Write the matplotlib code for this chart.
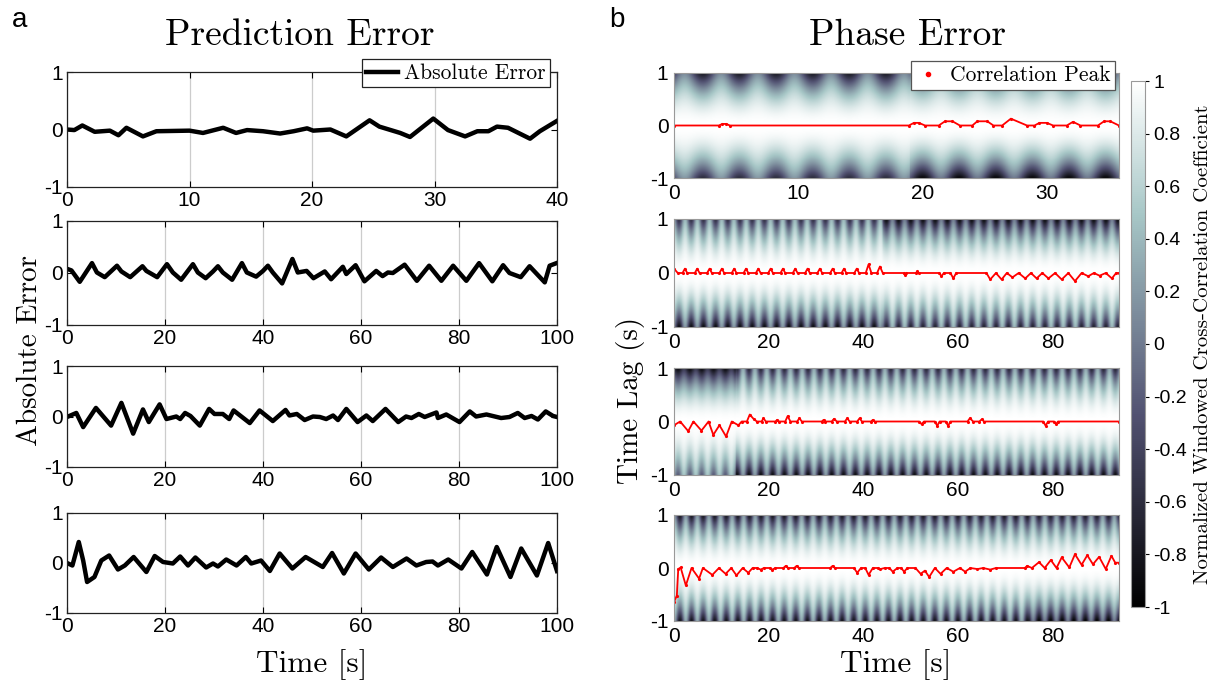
import numpy as np
import matplotlib
matplotlib.use('Agg')
import matplotlib.pyplot as plt
from matplotlib.lines import Line2D

plt.rcParams['font.family'] = ['Liberation Sans', 'DejaVu Sans']
plt.rcParams['axes.unicode_minus'] = False
SERIF = 'cmr10'

# ---------------- (a) absolute prediction error ----------------
err1_t = [0, 0.6, 1.25, 2.26, 3.5, 4.2, 4.85, 6.2, 7.3, 10, 11.1, 12.75, 13.8, 14.7, 16, 17.4,
          18.5, 19.6, 20.1, 21.5, 22.8, 24.7, 25.5, 27.2, 28, 29.9, 31.1, 32.5, 33.5, 34.4,
          35.1, 36, 37.8, 38.6, 40]
err1_v = [0, -0.01, 0.07, -0.04, -0.02, -0.1, 0.03, -0.12, -0.03, -0.02, -0.06, 0.03, -0.06,
          -0.01, -0.03, -0.07, -0.03, 0.02, -0.02, 0, -0.12, 0.16, 0.05, -0.06, -0.13, 0.19,
          -0.01, -0.12, -0.03, -0.03, 0.05, 0.03, -0.16, -0.03, 0.15]

err2_t = [0, 0.9, 2.6, 5.1, 6.1, 7.7, 10.2, 11.1, 12.9, 15.4, 16.2, 18.4, 20.4, 21.6, 23.3,
          25.7, 26.7, 28.3, 29.8, 30.8, 31.8, 33.7, 35.7, 36.7, 38.6, 40, 41, 42, 43.9, 46,
          47.1, 48.9, 50.3, 52.6, 53.9, 56.3, 57, 58.9, 60.7, 63.1, 64.4, 65.5, 66.5, 68.9,
          71.4, 73.9, 76.4, 78.8, 81.5, 84.1, 86.8, 89, 90.3, 92.6, 94.4, 97.5, 98.5, 99.9]
err2_v = [0.08, 0.05, -0.17, 0.19, 0.01, -0.08, 0.14, 0.03, -0.08, 0.13, 0.04, -0.08, 0.17,
          0.01, -0.13, 0.17, 0.01, -0.1, 0.03, 0.13, 0.01, -0.13, 0.19, 0.01, -0.07, 0.04,
          0.14, 0.01, -0.2, 0.27, 0.01, 0.04, -0.1, 0.03, -0.12, 0.12, -0.02, 0.15, -0.16,
          0.04, -0.06, 0.01, 0, 0.16, -0.15, 0.14, -0.15, 0.14, -0.15, 0.19, -0.16, 0.15, 0,
          -0.08, 0.13, -0.18, 0.14, 0.19]

err3_t = [0, 1.9, 3.3, 5.9, 9.0, 11.1, 13.5, 15.5, 16.7, 17.7, 18.9, 20.3, 22.3, 23.1, 24.1,
          25.2, 27.1, 29, 30.1, 31.8, 33.1, 34, 37.3, 39.3, 42, 44.6, 45.4, 46.9, 48.5, 50.2,
          51.6, 52.9, 54.3, 55.3, 57, 59.3, 61.1, 62.4, 65, 67.6, 69.2, 70.3, 71.8, 73, 75.4,
          75.7, 77.4, 80.1, 82.2, 83.5, 85.6, 88.6, 90.3, 92, 93.4, 94.8, 96.1, 97.7, 99.2, 100]
err3_v = [-0.01, 0.07, -0.21, 0.17, -0.18, 0.27, -0.34, 0.14, -0.11, 0.05, 0.24, -0.05, 0,
          -0.05, 0.07, 0.01, -0.18, 0.15, 0.05, 0.05, -0.05, 0.12, -0.13, 0.12, -0.09, 0.13,
          0.02, 0.05, -0.07, 0, -0.01, -0.05, 0.02, -0.07, 0.15, -0.11, 0.02, -0.09, 0.15,
          -0.11, 0, -0.03, 0.05, -0.01, 0.08, -0.03, 0.04, -0.11, 0.1, 0, 0.04, -0.03, -0.01,
          0.07, -0.03, 0.01, -0.06, 0.1, 0.01, -0.01]

err4_t = [0, 1.1, 2.4, 3.3, 4.1, 5.6, 7.0, 8.6, 10.4, 11.8, 13.6, 16.2, 17.9, 19.6, 21.6,
          23.1, 24.7, 26.2, 28.4, 29.8, 30.8, 32.5, 34.6, 36.5, 37.6, 39.6, 41.4, 43.4, 46,
          48.7, 52.2, 54.1, 56.5, 58.9, 61.6, 64.1, 66.5, 69.3, 71.3, 73.3, 74.6, 75.7, 77.8,
          80.5, 82.7, 85.7, 87.7, 90.5, 92.7, 95.9, 98.2, 100]
err4_v = [0, -0.05, 0.42, 0.05, -0.38, -0.28, 0.05, 0.15, -0.13, -0.05, 0.12, -0.18, 0.14,
          0.02, -0.01, 0.13, -0.05, 0.11, -0.09, -0.01, -0.07, 0.07, -0.05, 0.12, -0.01, 0.05,
          -0.16, 0.19, -0.11, 0.12, -0.08, 0.2, -0.21, 0.19, -0.13, 0.11, -0.08, 0.09, -0.05,
          0.02, 0.03, -0.05, 0.07, -0.11, 0.22, -0.23, 0.32, -0.28, 0.29, -0.25, 0.4, -0.16]

err_series = [(err1_t, err1_v), (err2_t, err2_v), (err3_t, err3_v), (err4_t, err4_v)]
err_xmax = [40, 100, 100, 100]
err_xticks = [[0, 10, 20, 30, 40]] + [[0, 20, 40, 60, 80, 100]] * 3

# ---------------- (b) correlation peak lag ----------------
peak1_t = [0, 3.6, 3.9, 4.2, 4.5, 18.9, 19.3, 19.7, 20.2, 21.3, 21.8, 22.4, 23, 24, 24.4,
           25.2, 25.7, 26.4, 27.1, 28.4, 29, 29.4, 30, 30.5, 31.6, 32.1, 32.7, 34.1, 34.6,
           35.1, 35.8]
peak1_v = [0, 0, 0.03, 0.03, 0, 0, 0.05, 0.05, 0, 0, 0.08, 0.08, 0, 0, 0.08, 0.08, 0, 0,
           0.13, 0, 0, 0.05, 0.05, 0, 0, 0.07, 0, 0, 0.08, 0.08, 0]

peak2_t = [0, 0.8, 1.8, 2.3, 2.8, 4.4, 4.9, 5.4, 7.0, 7.5, 8.0, 9.6, 10.1, 10.6, 12.2, 12.7,
           13.2, 14.7, 15.2, 15.7, 17.3, 17.8, 18.3, 19.9, 20.4, 20.9, 22.5, 23.0, 23.5, 25.1,
           25.6, 26.1, 27.7, 28.2, 28.7, 30.3, 30.8, 31.3, 33.0, 33.5, 34.0, 35.4, 35.9, 36.4,
           38.1, 38.6, 39.1, 40.5, 41.1, 41.7, 42.9, 43.5, 44.1, 48.5, 48.8, 49.1, 51.1, 51.4,
           51.7, 56.0, 56.5, 57.0, 58.4, 59.0, 59.6, 66.0, 66.8, 68.0, 69.2, 70.3, 71.5, 72.8,
           74.2, 75.4, 76.6, 77.8, 79.1, 80.5, 81.9, 83.3, 84.7, 86.1, 87.5, 88.7, 89.9, 91.2,
           92.5, 93.4, 94]
peak2_v = [0.08, 0, 0, 0.08, 0, 0, 0.08, 0, 0, 0.08, 0, 0, 0.08, 0, 0, 0.08, 0, 0, 0.08, 0,
           0, 0.08, 0, 0, 0.08, 0, 0, 0.08, 0, 0, 0.08, 0, 0, 0.08, 0, 0, 0.08, 0, 0, 0.08, 0,
           0, 0.08, 0, 0, 0.08, 0, 0, 0.16, 0, 0, 0.12, 0, 0, -0.04, 0, 0, 0.03, 0, 0, -0.06,
           0, 0, -0.1, 0, 0, -0.12, 0, -0.12, 0, -0.08, 0, -0.1, 0, -0.1, 0, -0.1, 0, -0.12, 0,
           -0.15, 0, -0.06, 0, -0.05, 0, -0.1, 0, 0]

peak3_t = [0, 1.3, 3.0, 4.1, 5.8, 7.3, 8.3, 9.6, 11.0, 12.2, 13.6, 14.3, 15.4, 16.0, 16.8,
           17.5, 18.5, 18.9, 19.4, 21.4, 21.8, 22.2, 23.5, 24.0, 24.6, 26.0, 26.5, 27.0, 31.2,
           31.6, 32.0, 33.3, 33.8, 34.4, 36.1, 36.6, 37.1, 38.7, 39.2, 39.7, 41.6, 42.0, 42.4,
           51.8, 52.3, 52.8, 55.1, 55.6, 56.1, 57.4, 57.9, 58.4, 62.0, 62.5, 63.2, 64.5, 65.0,
           65.5, 78.0, 78.5, 79.0, 80.3, 80.7, 81.1, 94]
peak3_v = [-0.07, 0, -0.18, 0, -0.17, 0, -0.25, -0.07, -0.28, 0, -0.07, 0, 0, 0.13, 0.05, 0,
           0, 0.06, 0, 0, 0.03, 0, 0, 0.1, 0, 0, 0.06, 0, 0, 0.03, 0, 0, 0.05, 0, 0, 0.06, 0,
           0, 0.06, 0, 0, 0.03, 0, 0, -0.05, 0, 0, -0.08, 0, 0, -0.08, 0, 0, 0.06, 0, 0, 0.04,
           0, 0, -0.08, 0, 0, -0.05, 0, 0]

peak4_t = [0, 0.6, 0.9, 1.4, 2.5, 3.7, 5.3, 6.1, 8.1, 9.5, 10.9, 12.1, 13.2, 14.5, 15.7, 16.6,
           17.6, 18.3, 19.0, 20.2, 20.8, 21.4, 23.1, 23.6, 24.1, 25.4, 25.9, 26.4, 33.0, 33.5,
           34.0, 38.0, 38.7, 39.5, 40.4, 41.1, 42.0, 43.0, 43.6, 44.5, 45.5, 46.2, 47.2, 48.0,
           48.6, 49.3, 51.0, 52.1, 53.0, 53.9, 55.1, 56.3, 57.6, 59.0, 60.4, 61.5, 62.6, 64.1,
           65.3, 66.8, 68.0, 74.1, 74.6, 75.6, 77.1, 78.3, 79.6, 80.8, 81.9, 83.5, 84.7, 86.1,
           87.3, 88.5, 89.8, 91.2, 92.4, 93.2, 94]
peak4_v = [-0.64, -0.52, -0.02, 0.01, -0.33, 0, -0.2, 0, -0.13, 0, -0.11, 0, -0.14, 0, -0.09,
           0, 0, -0.03, 0, 0, -0.03, 0, 0, 0.04, 0, 0, 0.04, 0, 0, 0.04, 0, 0, -0.09, 0, 0,
           -0.13, 0, 0, -0.02, 0, 0, -0.07, 0, 0, -0.07, 0, 0, -0.11, -0.05, -0.17, 0, -0.11, 0,
           -0.07, 0, -0.07, 0, -0.02, 0, -0.03, 0, 0, 0.04, 0, 0.11, 0, 0.15, 0, 0.2, 0.01,
           0.26, 0.06, 0.24, 0.07, 0.21, -0.02, 0.23, 0.1, 0.1]

peak_series = [(peak1_t, peak1_v), (peak2_t, peak2_v), (peak3_t, peak3_v), (peak4_t, peak4_v)]
lag_xmax = [35.8, 94, 94, 94]
lag_xticks = [[0, 10, 20, 30]] + [[0, 20, 40, 60, 80]] * 3

# background texture of each cross-correlation map: stripe period (s) and, per time
# segment, the range of the coefficient at lag +1 (top) and lag -1 (bottom)
stripe_period = [2.95, 2.58, 2.5, 2.45]
stripe_phase = [2.3, 1.0, 0.8, 1.2]
edge_segments = [
    [(0, 19, -0.8, 0.1, -0.6, 0.2), (19, 36, -0.5, 0.2, -0.95, 0.0)],
    [(0, 44, -0.6, 0.4, -0.9, 0.2), (44, 94, -0.95, 0.0, -0.7, 0.4)],
    [(0, 13, -0.95, -0.5, -0.2, 0.5), (13, 94, -0.7, 0.3, -0.9, 0.2)],
    [(0, 75, -0.85, 0.2, -0.85, 0.3), (75, 94, -0.8, 0.2, -1.0, 0.0)],
]
cbar_ticks = [-1, -0.8, -0.6, -0.4, -0.2, 0, 0.2, 0.4, 0.6, 0.8, 1]
cbar_labels = ['-1', '-0.8', '-0.6', '-0.4', '-0.2', '0', '0.2', '0.4', '0.6', '0.8', '1']


def xcorr_map(tmax, period, phase, segments, nt=700, nl=121):
    t = np.linspace(0, tmax, nt)
    lag = np.linspace(-1, 1, nl)
    osc = 0.5 + 0.5 * np.cos(2 * np.pi * (t - phase) / period)
    top = np.zeros(nt)
    bot = np.zeros(nt)
    for t0, t1, tlo, thi, blo, bhi in segments:
        m = (t >= t0) & (t <= t1)
        top[m] = tlo + (thi - tlo) * (1 - osc[m])
        bot[m] = blo + (bhi - blo) * (1 - osc[m])
    edge = np.where(lag[:, None] >= 0, top[None, :], bot[None, :])
    return np.clip(1 - (1 - edge) * lag[:, None] ** 2, -1, 1)


W, H = 1213, 687
fig = plt.figure(figsize=(W / 100, H / 100), dpi=100)


def px_axes(x0, y0, x1, y1):
    return fig.add_axes([x0 / W, 1 - y1 / H, (x1 - x0) / W, (y1 - y0) / H])


tick_fs = 15
left_rows = [(72, 187), (221, 325), (366, 467), (513, 613)]
right_rows = [(73, 178), (219, 327), (368, 475), (515, 621)]

for i, ((t, v), (y0, y1)) in enumerate(zip(err_series, left_rows)):
    ax = px_axes(67, y0, 557, y1)
    ln, = ax.plot(t, v, color='black', lw=3.2, solid_joinstyle='round')
    ax.set_xlim(0, err_xmax[i])
    ax.set_ylim(-1, 1)
    ax.set_xticks(err_xticks[i])
    ax.set_yticks([-1, 0, 1])
    ax.set_yticklabels(['-1', '0', '1'])
    ax.grid(axis='x', color='#cccccc', lw=0.9)
    ax.tick_params(direction='in', length=4, labelsize=tick_fs, top=True, right=True, pad=3)
    for s in ax.spines.values():
        s.set_linewidth(0.9)
        s.set_color('#222222')
    if i == 0:
        leg = ax.legend([ln], ['Absolute Error'], loc='upper right', bbox_to_anchor=(0.985, 1.11),
                        borderaxespad=0, fancybox=False, framealpha=1, handlelength=1.5,
                        handletextpad=0.25, borderpad=0.2, prop={'family': SERIF, 'size': 15.5})
        leg.get_frame().set_edgecolor('#222222')
        leg.get_frame().set_linewidth(0.9)

for i, ((t, v), (y0, y1)) in enumerate(zip(peak_series, right_rows)):
    ax = px_axes(674, y0, 1119, y1)
    img = xcorr_map(lag_xmax[i], stripe_period[i], stripe_phase[i], edge_segments[i])
    im = ax.imshow(img, cmap='bone', vmin=-1, vmax=1, aspect='auto', origin='lower',
                   extent=[0, lag_xmax[i], -1, 1], interpolation='bilinear')
    ax.plot(t, v, color='red', lw=1.3, marker='.', ms=2.5)
    ax.set_xlim(0, lag_xmax[i])
    ax.set_ylim(-1, 1)
    ax.set_xticks(lag_xticks[i])
    ax.set_yticks([-1, 0, 1])
    ax.set_yticklabels(['-1', '0', '1'])
    ax.tick_params(length=0, labelsize=tick_fs, pad=4)
    for s in ax.spines.values():
        s.set_color('#999999')
        s.set_linewidth(0.8)
    if i == 0:
        h = Line2D([], [], color='red', marker='.', ls='none', ms=6)
        leg = ax.legend([h], ['Correlation Peak'], loc='upper right', bbox_to_anchor=(0.99, 1.11),
                        borderaxespad=0, fancybox=False, framealpha=1, handlelength=1.2,
                        handletextpad=0.4, borderpad=0.2, prop={'family': SERIF, 'size': 15.5})
        leg.get_frame().set_edgecolor('#555555')
        leg.get_frame().set_linewidth(0.9)

cax = px_axes(1131, 81, 1145, 607)
cb = fig.colorbar(im, cax=cax, ticks=cbar_ticks)
cb.ax.set_yticklabels(cbar_labels)
cb.ax.tick_params(labelsize=tick_fs - 1, length=3, pad=3)
cb.outline.set_edgecolor('#999999')
cb.outline.set_linewidth(0.8)
cb.set_label('Normalized Windowed Cross-Correlation Coefficient', family=SERIF, fontsize=15,
             labelpad=5)

fig.text(300 / W, 1 - 35 / H, 'Prediction Error', family=SERIF, fontsize=27, ha='center', va='center')
fig.text(908 / W, 1 - 35 / H, 'Phase Error', family=SERIF, fontsize=27, ha='center', va='center')
fig.text(312 / W, 1 - 665 / H, 'Time [s]', family=SERIF, fontsize=22.5, ha='center', va='center')
fig.text(896 / W, 1 - 665 / H, 'Time [s]', family=SERIF, fontsize=22.5, ha='center', va='center')
fig.text(30 / W, 1 - 350 / H, 'Absolute Error', family=SERIF, fontsize=21, ha='center',
         va='center', rotation=90)
fig.text(630 / W, 1 - 400 / H, 'Time Lag (s)', family=SERIF, fontsize=21, ha='center',
         va='center', rotation=90)
fig.text(20 / W, 1 - 20 / H, 'a', fontsize=20, ha='center', va='center')
fig.text(617 / W, 1 - 20 / H, 'b', fontsize=20, ha='center', va='center')

fig.savefig('out.png', dpi=100)
